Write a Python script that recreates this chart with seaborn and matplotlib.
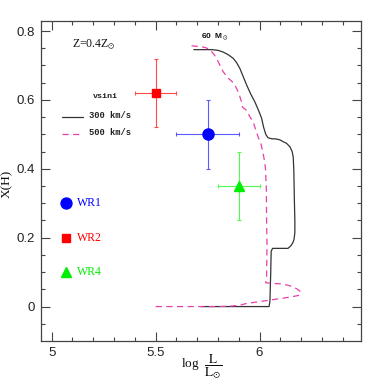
import matplotlib
matplotlib.use("Agg")
import matplotlib.pyplot as plt
import seaborn as sns
import numpy as np
import pandas as pd

# ---- data ----
black_logL = [5.684, 5.77, 5.80, 5.825, 5.85, 5.873, 5.89, 5.905, 5.92, 5.9375, 5.957, 5.977,
              5.995, 6.010, 6.020, 6.030, 6.041, 6.06, 6.074, 6.085, 6.098, 6.113, 6.13, 6.146,
              6.157, 6.162, 6.165, 6.168, 6.17, 6.17, 6.166, 6.16, 6.15, 6.137, 6.0625, 6.056,
              6.054, 6.05, 6.046, 5.72]
black_XH = [0.746, 0.746, 0.744, 0.739, 0.731, 0.721, 0.708, 0.692, 0.670, 0.644, 0.618, 0.595,
            0.570, 0.547, 0.520, 0.500, 0.490, 0.487, 0.487, 0.486, 0.484, 0.479, 0.474, 0.464,
            0.450, 0.435, 0.397, 0.30, 0.25, 0.215, 0.195, 0.185, 0.176, 0.169, 0.169, 0.160,
            0.10, 0.015, 0.0, 0.0]

pink_logL = [5.673, 5.713, 5.74, 5.761, 5.78, 5.793, 5.81, 5.825, 5.849, 5.865, 5.881, 5.90,
             5.913, 5.918, 5.935, 5.955, 5.969, 5.993, 6.008, 6.017, 6.025, 6.029, 6.033, 6.034,
             6.036, 6.034, 6.03, 6.065, 6.10, 6.137, 6.165, 6.178, 6.194, 6.197, 6.194, 6.15,
             6.098, 6.017, 5.9375, 5.905, 5.856, 5.80, 5.50]
pink_XH = [0.757, 0.755, 0.752, 0.746, 0.733, 0.721, 0.70, 0.682, 0.663, 0.655, 0.644, 0.62,
           0.595, 0.579, 0.571, 0.55, 0.537, 0.493, 0.47, 0.445, 0.42, 0.397, 0.335, 0.251,
           0.183, 0.086, 0.069, 0.067, 0.066, 0.062, 0.056, 0.052, 0.045, 0.038, 0.033, 0.028,
           0.023, 0.016, 0.009, 0.004, 0.001, 0.0, 0.0]

star_names = ["WR1", "WR2", "WR4"]
star_logL = [5.75, 5.50, 5.90]
star_XH = [0.50, 0.62, 0.35]
star_logL_err = [0.15, 0.10, 0.10]
star_XH_err = [0.10, 0.10, 0.10]
star_colors = ["#0000ff", "#ff0000", "#00ee00"]
err_colors = ["#5a5aff", "#ff4a4a", "#4cff4c"]
star_markers = ["o", "s", "^"]
star_sizes = [8.0, 6.3, 6.6]
key_XH = [0.30, 0.20, 0.10]

xticks = [5, 5.5, 6]
xticklabels = ["5", "5.5", "6"]
yticks = [0, 0.2, 0.4, 0.6, 0.8]
yticklabels = ["0", "0.2", "0.4", "0.6", "0.8"]

# ---- figure ----
sns.set_style("ticks")
plt.rcParams["font.family"] = ["Liberation Sans", "DejaVu Sans"]
plt.rcParams["mathtext.fontset"] = "stix"

fig = plt.figure(figsize=(3.82, 3.82), dpi=100)
ax = fig.add_axes([0.108, 0.1073, 0.838, 0.8385])

black_df = pd.DataFrame({"logL": black_logL, "XH": black_XH})
pink_df = pd.DataFrame({"logL": pink_logL, "XH": pink_XH})

sns.lineplot(data=black_df, x="logL", y="XH", sort=False, estimator=None, ax=ax,
             color="#333333", linewidth=0.9)
sns.lineplot(data=pink_df, x="logL", y="XH", sort=False, estimator=None, ax=ax,
             color="#e83fa8", linewidth=0.9, linestyle=(0, (5, 3.5)))

for i in range(3):
    ax.errorbar(star_logL[i], star_XH[i], xerr=star_logL_err[i], yerr=star_XH_err[i],
                fmt="none", ecolor=err_colors[i], elinewidth=0.8, capsize=1.5,
                capthick=0.8, zorder=3)
    ax.plot(star_logL[i], star_XH[i], marker=star_markers[i], color=star_colors[i],
            markersize=star_sizes[i], linestyle="none", zorder=4)
    # key
    ax.plot(5.07, key_XH[i], marker=star_markers[i], color=star_colors[i],
            markersize=star_sizes[i] if i != 0 else 7.9, linestyle="none", zorder=4)
    ax.text(5.123, key_XH[i], star_names[i], color=star_colors[i], fontsize=8.5,
            family="Liberation Serif", va="center", ha="left")

# vsini key
ax.text(5.2, 0.599, "vsini", fontsize=6, family="Liberation Mono", fontweight="bold",
        va="bottom", ha="left", color="#222222")
ax.plot([5.05, 5.149], [0.55, 0.55], color="#333333", linewidth=0.9)
ax.text(5.18, 0.555, "300 km/s", fontsize=6.3, family="Liberation Mono", fontweight="bold",
        va="center", ha="left", color="#222222")
ax.plot([5.05, 5.149], [0.50, 0.50], color="#e83fa8", linewidth=0.9, linestyle=(0, (5, 3.5)))
ax.text(5.18, 0.506, "500 km/s", fontsize=6.3, family="Liberation Mono", fontweight="bold",
        va="center", ha="left", color="#222222")

ax.text(5.1, 0.751, r"Z=0.4Z$_{\odot}$", fontsize=8.5, family="Liberation Serif",
        va="baseline", ha="left", color="#111111")
ax.text(5.718, 0.780, r"60  M$_{\odot}$", fontsize=6, family="Liberation Sans",
        fontweight="bold", va="baseline", ha="left", color="#111111")

ax.set_xlim(4.95, 6.49)
ax.set_ylim(-0.1, 0.83)
ax.set_xticks(xticks)
ax.set_xticklabels(xticklabels)
ax.set_yticks(yticks)
ax.set_yticklabels(yticklabels)
ax.set_xticks(np.arange(5.0, 6.45, 0.1), minor=True)
ax.set_yticks(np.arange(-0.05, 0.83, 0.05), minor=True)
ax.tick_params(which="both", direction="in", top=True, right=True, color="#444444",
               labelsize=9.5, labelcolor="#222222")
ax.tick_params(which="major", length=6.3, width=0.8, pad=4.5)
ax.tick_params(which="minor", length=3.1, width=0.8)
for sp in ax.spines.values():
    sp.set_color("#444444")
    sp.set_linewidth(0.9)

ax.set_xlabel(r"log  $\dfrac{\mathrm{L}}{\mathrm{L}_{\odot}}$", family="Liberation Serif",
              fontsize=9.5, color="#111111")
ax.xaxis.set_label_coords(0.5, -0.035)
ax.xaxis.label.set_va("top")
ax.set_ylabel("X(H)", family="Liberation Serif", fontsize=9.5, color="#111111")
ax.yaxis.label.set_va("center")
ax.yaxis.set_label_coords(-0.108, 0.49)

fig.savefig("out.png", dpi=100)
